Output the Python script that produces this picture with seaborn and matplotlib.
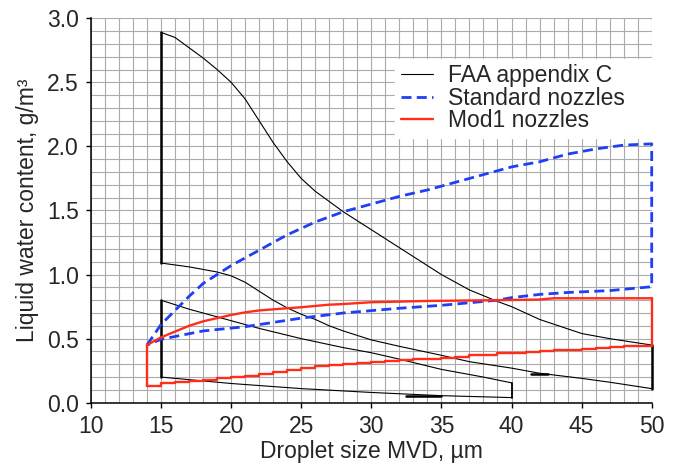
import matplotlib
matplotlib.use("Agg")
import matplotlib.pyplot as plt
from matplotlib.ticker import MultipleLocator, FormatStrFormatter
import seaborn as sns


# FAA appendix C envelopes
faa_int_max_x = [15, 16, 17, 18, 19, 20, 21, 22, 23, 24, 25, 26, 27, 28, 30, 32, 35, 37, 39, 40, 42, 45, 47, 50]
faa_int_max_y = [2.89, 2.85, 2.77, 2.69, 2.60, 2.50, 2.37, 2.20, 2.03, 1.88, 1.75, 1.65, 1.57, 1.49,
                 1.35, 1.21, 1.00, 0.88, 0.79, 0.75, 0.65, 0.54, 0.50, 0.45]
faa_int_min_x = [15, 17, 19, 20, 21, 22, 23, 24, 25, 26, 27, 28, 30, 32, 35, 37, 40, 42, 45, 47, 50]
faa_int_min_y = [1.09, 1.06, 1.02, 0.99, 0.94, 0.87, 0.80, 0.74, 0.69, 0.65, 0.60, 0.56, 0.49,
                 0.44, 0.37, 0.32, 0.27, 0.23, 0.19, 0.16, 0.11]
faa_cont_max_x = [15, 17, 20, 22, 25, 28, 30, 32, 35, 38, 40]
faa_cont_max_y = [0.80, 0.73, 0.64, 0.58, 0.50, 0.43, 0.39, 0.34, 0.26, 0.20, 0.155]
faa_cont_min_x = [15, 20, 25, 30, 35, 40]
faa_cont_min_y = [0.20, 0.15, 0.11, 0.08, 0.055, 0.04]
# short bold pieces on the FAA lines
bold_x = [[32.5, 35.0], [41.4, 42.6]]
bold_y = [[0.052, 0.052], [0.224, 0.224]]

# Standard nozzles
std_up_x = [14, 15, 16, 17, 18, 19, 20, 21, 22, 23, 24, 26, 28, 30, 32, 34, 36, 38, 40, 42, 44, 46, 48, 50]
std_up_y = [0.45, 0.61, 0.72, 0.83, 0.93, 1.00, 1.07, 1.13, 1.19, 1.25, 1.31, 1.41, 1.49, 1.55,
            1.61, 1.66, 1.72, 1.78, 1.84, 1.88, 1.94, 1.98, 2.01, 2.02]
std_lo_x = [14, 15, 18, 21, 25, 28, 32, 35, 37, 39, 40, 42, 44, 47, 50]
std_lo_y = [0.45, 0.495, 0.56, 0.593, 0.66, 0.70, 0.737, 0.76, 0.78, 0.80, 0.82, 0.845, 0.86, 0.875, 0.905]

# Mod1 nozzles
mod_up_x = [14, 15, 16, 17, 18, 19, 20, 21, 22, 24, 25, 26, 27, 28, 30, 34, 39, 42, 43, 50]
mod_up_y = [0.45, 0.51, 0.555, 0.60, 0.635, 0.66, 0.685, 0.705, 0.72, 0.737, 0.745, 0.755,
            0.765, 0.77, 0.784, 0.794, 0.80, 0.805, 0.815, 0.815]
mod_lo_x = list(range(14, 51))
mod_lo_y = [0.13, 0.15, 0.16, 0.17, 0.18, 0.19, 0.20, 0.21, 0.225, 0.24, 0.255, 0.27, 0.285,
            0.295, 0.305, 0.31, 0.32, 0.325, 0.335, 0.34, 0.345, 0.35, 0.36, 0.37, 0.375,
            0.385, 0.39, 0.395, 0.405, 0.41, 0.415, 0.42, 0.43, 0.435, 0.44, 0.445, 0.45]

x_ticks = [10, 15, 20, 25, 30, 35, 40, 45, 50]
y_ticks = [0.0, 0.5, 1.0, 1.5, 2.0, 2.5, 3.0]

sns.set_style("white")
plt.rcParams["font.family"] = ["Liberation Sans", "DejaVu Sans"]
plt.rcParams["font.size"] = 16.5

fig, ax = plt.subplots(figsize=(6.8, 4.68), dpi=100)
fig.subplots_adjust(left=0.1337, right=0.9584, bottom=0.1395, top=0.961)

black = "black"
blue = "#1f3ff5"
red = "#ff2d1a"


def line(x, y, **kw):
    sns.lineplot(x=x, y=y, sort=False, estimator=None, ax=ax, clip_on=False, **kw)


# FAA
line(faa_int_max_x, faa_int_max_y, color=black, lw=0.8, label="FAA appendix C")
line(faa_int_min_x, faa_int_min_y, color=black, lw=0.8)
line(faa_cont_max_x, faa_cont_max_y, color=black, lw=0.8)
line(faa_cont_min_x, faa_cont_min_y, color=black, lw=0.8)
line([faa_int_max_x[0]] * 2, [faa_int_min_y[0], faa_int_max_y[0]], color=black, lw=1.8)
line([faa_int_max_x[-1]] * 2, [faa_int_min_y[-1], faa_int_max_y[-1]], color=black, lw=1.8)
line([faa_cont_max_x[0]] * 2, [faa_cont_min_y[0], faa_cont_max_y[0]], color=black, lw=1.8)
line([faa_cont_max_x[-1]] * 2, [faa_cont_min_y[-1], faa_cont_max_y[-1]], color=black, lw=1.3)
for bx, by in zip(bold_x, bold_y):
    line(bx, by, color=black, lw=1.8)

# Standard nozzles (closed outline)
std_x = std_up_x + std_lo_x[::-1]
std_y = std_up_y + std_lo_y[::-1]
line(std_x, std_y, color=blue, lw=2.0, dashes=(3.6, 1.9), label="Standard nozzles")

# Mod1 nozzles
line(mod_up_x, mod_up_y, color=red, lw=1.7, label="Mod1 nozzles")
line(mod_lo_x, mod_lo_y, color=red, lw=1.7, drawstyle="steps-post")
line([mod_up_x[0]] * 2, [mod_lo_y[0], mod_up_y[0]], color=red, lw=1.7)
line([mod_up_x[-1]] * 2, [mod_lo_y[-1], mod_up_y[-1]], color=red, lw=1.7)

ax.set_xlim(10, 50)
ax.set_ylim(0, 3)
ax.set_xticks(x_ticks)
ax.set_yticks(y_ticks)
ax.yaxis.set_major_formatter(FormatStrFormatter("%.1f"))
ax.xaxis.set_minor_locator(MultipleLocator(1))
ax.yaxis.set_minor_locator(MultipleLocator(0.1))
ax.grid(which="both", color="#ababab", lw=0.8)
ax.set_axisbelow(True)
ax.tick_params(which="major", direction="out", length=3.5, width=1, color=black, pad=5,
               bottom=True, left=True, labelsize=16.5)
ax.tick_params(which="minor", length=0)
for s in ["top", "right"]:
    ax.spines[s].set_visible(False)
for s in ["left", "bottom"]:
    ax.spines[s].set_color(black)
    ax.spines[s].set_linewidth(1.1)

ax.set_xlabel("Droplet size MVD, µm", fontsize=16.5, labelpad=2)
ax.set_ylabel("Liquid water content, g/m³", fontsize=16.5, labelpad=6)

leg = ax.legend(loc="upper left", bbox_to_anchor=(0.543, 0.895, 0.457, 0.0), mode="expand",
                borderaxespad=0, frameon=True, fancybox=False, framealpha=1,
                edgecolor="white", facecolor="white", fontsize=16.5, handlelength=1.4,
                handletextpad=0.65, labelspacing=-0.02, borderpad=0.25)

plt.savefig("out.png", dpi=100)
